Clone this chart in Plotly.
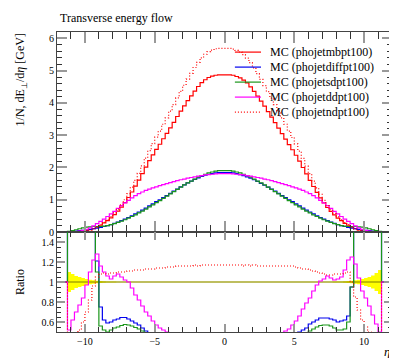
import numpy as np
import plotly.graph_objects as go
from plotly.subplots import make_subplots

# ---------------- binning ----------------
ETA_MIN, ETA_MAX, NBINS = -12.0, 12.0, 96
edges = np.linspace(ETA_MIN, ETA_MAX, NBINS + 1)

# ---------------- main panel values (per bin, eta from -12 to 12) ----------------
mb_left = [0, 0, 0, 0.002, 0.005, 0.009, 0.016, 0.028, 0.045, 0.07, 0.105, 0.15,
           0.21, 0.28, 0.35, 0.44, 0.54, 0.65, 0.77, 0.91, 1.07, 1.24, 1.42, 1.61,
           1.81, 2.01, 2.21, 2.39, 2.56, 2.72, 2.89, 3.06, 3.23, 3.40, 3.58, 3.75,
           3.91, 4.07, 4.22, 4.37, 4.51, 4.63, 4.72, 4.79, 4.83, 4.86, 4.87, 4.87]
mb_right = [4.87, 4.87, 4.86, 4.82, 4.78, 4.71, 4.62, 4.50, 4.36, 4.21, 4.06, 3.90,
            3.73, 3.56, 3.39, 3.22, 3.05, 2.88, 2.71, 2.55, 2.38, 2.20, 2.00, 1.80,
            1.60, 1.41, 1.23, 1.06, 0.90, 0.76, 0.64, 0.53, 0.43, 0.35, 0.27, 0.21,
            0.15, 0.10, 0.068, 0.044, 0.027, 0.016, 0.009, 0.005, 0.002, 0, 0, 0]

nd_left = [0, 0, 0, 0.001, 0.002, 0.004, 0.008, 0.017, 0.032, 0.057, 0.10, 0.16,
           0.23, 0.30, 0.38, 0.48, 0.59, 0.71, 0.84, 1.00, 1.19, 1.39, 1.60, 1.82,
           2.05, 2.29, 2.52, 2.74, 2.94, 3.13, 3.34, 3.54, 3.75, 3.95, 4.16, 4.36,
           4.55, 4.74, 4.92, 5.10, 5.26, 5.40, 5.51, 5.59, 5.64, 5.68, 5.69, 5.69]
nd_right = [5.69, 5.69, 5.67, 5.63, 5.58, 5.50, 5.39, 5.25, 5.09, 4.91, 4.73, 4.54,
            4.35, 4.15, 3.95, 3.75, 3.54, 3.34, 3.13, 2.93, 2.73, 2.51, 2.28, 2.04,
            1.81, 1.58, 1.37, 1.17, 0.98, 0.82, 0.69, 0.57, 0.47, 0.38, 0.29, 0.23,
            0.15, 0.09, 0.05, 0.028, 0.015, 0.008, 0.004, 0.002, 0.001, 0, 0, 0]

diff_left = [0, 0, 0, 0.01, 0.02, 0.03, 0.04, 0.05, 0.065, 0.08, 0.10, 0.12,
             0.14, 0.17, 0.20, 0.23, 0.27, 0.31, 0.35, 0.40, 0.45, 0.50, 0.56, 0.62,
             0.68, 0.74, 0.81, 0.87, 0.94, 1.00, 1.07, 1.13, 1.20, 1.27, 1.33, 1.40,
             1.46, 1.52, 1.58, 1.63, 1.68, 1.72, 1.76, 1.79, 1.81, 1.83, 1.84, 1.84]
diff_right = [1.84, 1.84, 1.83, 1.81, 1.78, 1.75, 1.71, 1.67, 1.62, 1.57, 1.51, 1.45,
              1.39, 1.33, 1.27, 1.20, 1.13, 1.07, 1.00, 0.94, 0.87, 0.81, 0.74, 0.68,
              0.62, 0.56, 0.50, 0.45, 0.40, 0.35, 0.31, 0.27, 0.23, 0.20, 0.17, 0.14,
              0.12, 0.10, 0.08, 0.065, 0.05, 0.04, 0.03, 0.02, 0.01, 0, 0, 0]

sd_left = [0, 0, 0, 0.02, 0.04, 0.07, 0.10, 0.13, 0.15, 0.16, 0.17, 0.17,
           0.17, 0.18, 0.20, 0.23, 0.26, 0.30, 0.34, 0.38, 0.43, 0.48, 0.53, 0.59,
           0.65, 0.71, 0.78, 0.84, 0.91, 0.97, 1.04, 1.11, 1.18, 1.25, 1.32, 1.39,
           1.46, 1.52, 1.58, 1.64, 1.70, 1.75, 1.79, 1.83, 1.86, 1.89, 1.90, 1.90]
sd_right = [1.90, 1.90, 1.89, 1.86, 1.83, 1.79, 1.75, 1.70, 1.64, 1.58, 1.52, 1.46,
            1.39, 1.32, 1.25, 1.18, 1.11, 1.04, 0.97, 0.91, 0.84, 0.78, 0.71, 0.65,
            0.59, 0.53, 0.48, 0.43, 0.38, 0.34, 0.30, 0.26, 0.23, 0.20, 0.18, 0.17,
            0.17, 0.17, 0.16, 0.15, 0.13, 0.10, 0.07, 0.04, 0.02, 0, 0, 0]

dd_left = [0, 0, 0, 0.003, 0.007, 0.015, 0.03, 0.05, 0.08, 0.13, 0.19, 0.26,
           0.33, 0.40, 0.48, 0.56, 0.64, 0.73, 0.82, 0.90, 0.98, 1.06, 1.13, 1.19,
           1.24, 1.29, 1.33, 1.37, 1.40, 1.44, 1.47, 1.50, 1.53, 1.56, 1.59, 1.62,
           1.64, 1.67, 1.69, 1.71, 1.73, 1.75, 1.77, 1.78, 1.79, 1.80, 1.81, 1.81]
dd_right = [1.81, 1.81, 1.80, 1.79, 1.78, 1.77, 1.75, 1.73, 1.71, 1.69, 1.67, 1.64,
            1.62, 1.59, 1.56, 1.53, 1.50, 1.47, 1.44, 1.40, 1.37, 1.33, 1.29, 1.24,
            1.19, 1.13, 1.06, 0.98, 0.90, 0.82, 0.73, 0.64, 0.56, 0.48, 0.40, 0.33,
            0.26, 0.19, 0.13, 0.08, 0.05, 0.03, 0.015, 0.007, 0.003, 0, 0, 0]

# ---------------- ratio panel values (series / mbpt100) ----------------
r_diff_left = [1, 1, 1, 3, 3, 3, 3, 3, 3, 3, 3,
               1.21, 0.75, 0.62, 0.59, 0.60, 0.62, 0.63, 0.645, 0.645, 0.63, 0.61, 0.59,
               0.57, 0.54, 0.51, 0.49,
               0.47, 0.46, 0.45, 0.44, 0.43, 0.42, 0.41, 0.41, 0.40, 0.40, 0.39, 0.39,
               0.39, 0.38, 0.38, 0.38, 0.38, 0.38, 0.38, 0.38, 0.38]
r_diff_right = [0.38, 0.38, 0.38, 0.38, 0.38, 0.38, 0.38, 0.39, 0.39, 0.39, 0.40, 0.40,
                0.41, 0.41, 0.42, 0.43, 0.44, 0.45, 0.46, 0.47, 0.48,
                0.50, 0.52, 0.54, 0.58, 0.60, 0.62, 0.64, 0.64, 0.64, 0.63, 0.62, 0.60,
                0.61, 0.62, 0.66, 0.95,
                3, 3, 3, 3, 3, 3, 3, 3, 1, 1, 1]

r_sd_left = [1, 1, 1, 3, 3, 3, 3, 3, 3, 3, 3,
             1.10, 0.56, 0.52, 0.50, 0.52, 0.54, 0.55, 0.565, 0.575, 0.57, 0.56, 0.545,
             0.53, 0.51, 0.49, 0.47,
             0.46, 0.45, 0.44, 0.43, 0.42, 0.42, 0.41, 0.41, 0.40, 0.40, 0.40, 0.39,
             0.39, 0.39, 0.39, 0.39, 0.39, 0.39, 0.39, 0.39, 0.39]
r_sd_right = [0.39, 0.39, 0.39, 0.39, 0.39, 0.39, 0.39, 0.39, 0.39, 0.40, 0.40, 0.40,
              0.41, 0.41, 0.42, 0.42, 0.43, 0.44, 0.45, 0.46, 0.47,
              0.48, 0.48, 0.49, 0.51, 0.53, 0.55, 0.565, 0.57, 0.57, 0.56, 0.54, 0.52,
              0.52, 0.53, 0.60, 0.95,
              3, 3, 3, 3, 3, 3, 3, 3, 1, 1, 1]

r_dd_left = [1, 1, 1,
             0.52, 0.62, 0.70, 0.77, 0.84, 0.97, 1.10, 1.22, 1.28, 1.16, 1.10, 1.06,
             1.03, 1.06, 1.08, 1.05, 1.02, 1.00, 0.94, 0.87, 0.82, 0.76, 0.70, 0.66,
             0.61, 0.57, 0.54, 0.52, 0.50, 0.48, 0.46, 0.44, 0.43, 0.42, 0.41, 0.40,
             0.39, 0.39, 0.38, 0.38, 0.37, 0.37, 0.37, 0.37, 0.37]
r_dd_right = [0.37, 0.37, 0.37, 0.37, 0.37, 0.38, 0.38, 0.39, 0.39, 0.40, 0.41, 0.42,
              0.43, 0.44, 0.46, 0.47, 0.49, 0.51, 0.53, 0.57, 0.61, 0.66, 0.73, 0.79,
              0.84, 0.91, 0.97, 1.01, 1.03, 1.06, 1.04, 1.02, 1.03, 1.05, 1.12, 1.22,
              1.25, 1.18, 1.04, 0.91, 0.84, 0.76, 0.67, 0.58, 0.50, 1, 1, 1]

r_nd_left = [1, 1, 1,
             0.30, 0.35, 0.42, 0.52, 0.60, 0.70, 0.82, 0.96, 1.05, 1.08, 1.09, 1.08,
             1.09, 1.09, 1.10, 1.10, 1.10, 1.11, 1.11, 1.12, 1.12, 1.12, 1.13, 1.13,
             1.13, 1.14, 1.14, 1.14, 1.15, 1.15, 1.15, 1.16, 1.16, 1.16, 1.16, 1.16,
             1.17, 1.16, 1.17, 1.17, 1.17, 1.17, 1.17, 1.17, 1.17]
r_nd_right = [1.17, 1.17, 1.17, 1.17, 1.17, 1.16, 1.17, 1.16, 1.17, 1.16, 1.16, 1.16,
              1.16, 1.16, 1.16, 1.16, 1.16, 1.16, 1.16, 1.16, 1.15, 1.14, 1.13, 1.13,
              1.12, 1.11, 1.10, 1.09, 1.08, 1.07, 1.07, 1.08, 1.08, 1.08, 1.09, 1.10,
              1.00, 0.85, 0.72, 0.62, 0.55, 0.50, 0.45, 0.40, 0.35, 1, 1, 1]

# relative uncertainty of the reference (mbpt100) -> yellow band
err_left = [0, 0, 0, 0.10, 0.08, 0.06, 0.05, 0.04, 0.03, 0.022, 0.017, 0.013,
            0.010, 0.008, 0.006, 0.005, 0.004, 0.003, 0.003,
            0.002, 0.002, 0.002, 0.002, 0.002, 0.002, 0.002, 0.002, 0.002, 0.002,
            0.002, 0.002, 0.002, 0.002, 0.002, 0.002, 0.002, 0.002, 0.002, 0.002,
            0.002, 0.002, 0.002, 0.002, 0.002, 0.002, 0.002, 0.002, 0.002]
err_right = [0.002, 0.002, 0.002, 0.002, 0.002, 0.002, 0.002, 0.002, 0.002, 0.002,
             0.002, 0.002, 0.002, 0.002, 0.002, 0.002, 0.002, 0.002, 0.002, 0.002,
             0.002, 0.002, 0.002, 0.002, 0.002, 0.002, 0.002, 0.002, 0.002,
             0.003, 0.003, 0.004, 0.005, 0.006, 0.008, 0.010, 0.013, 0.017, 0.022,
             0.03, 0.04, 0.05, 0.065, 0.09, 0.12, 0, 0, 0]

mb = mb_left + mb_right
nd = nd_left + nd_right
diff = diff_left + diff_right
sd = sd_left + sd_right
dd = dd_left + dd_right
r_mb = [1.0] * NBINS
r_diff = r_diff_left + r_diff_right
r_sd = r_sd_left + r_sd_right
r_dd = r_dd_left + r_dd_right
r_nd = r_nd_left + r_nd_right
err = err_left + err_right

labels = ["MC (phojetmbpt100)", "MC (phojetdiffpt100)", "MC (phojetsdpt100)",
          "MC (phojetddpt100)", "MC (phojetndpt100)"]
colors = ["#ff0000", "#0000ee", "#1a961a", "#ff00ff", "#ff0000"]
dashes = ["solid", "solid", "solid", "solid", "1px,2px"]

FONT = "Liberation Serif"


def stairs(vals):
    return list(vals) + [vals[-1]]


fig = make_subplots(rows=2, cols=1, shared_xaxes=True, vertical_spacing=0,
                    row_heights=[2 / 3, 1 / 3])

main_series = [mb, diff, sd, dd, nd]
for vals, name, col, dash in zip(main_series, labels, colors, dashes):
    fig.add_trace(go.Scatter(x=edges, y=stairs(vals), mode="lines", line_shape="hv",
                             line=dict(color=col, width=1.2, dash=dash),
                             name=name, showlegend=False), row=1, col=1)

# ratio panel: yellow band
lower = [1 - e for e in err]
upper = [1 + e for e in err]
fig.add_trace(go.Scatter(x=edges, y=stairs(lower), mode="lines", line_shape="hv",
                         line=dict(width=0, color="#ffff00"), showlegend=False,
                         hoverinfo="skip"), row=2, col=1)
fig.add_trace(go.Scatter(x=edges, y=stairs(upper), mode="lines", line_shape="hv",
                         line=dict(width=0, color="#ffff00"), fill="tonexty",
                         fillcolor="#ffff00", showlegend=False, hoverinfo="skip"),
              row=2, col=1)
fig.add_trace(go.Scatter(x=edges, y=stairs(r_mb), mode="lines", line_shape="hv",
                         line=dict(color="#7f7f00", width=1.2), showlegend=False),
              row=2, col=1)
ratio_series = [r_diff, r_sd, r_dd, r_nd]
for vals, col, dash in zip(ratio_series, colors[1:], dashes[1:]):
    fig.add_trace(go.Scatter(x=edges, y=stairs(vals), mode="lines", line_shape="hv",
                             line=dict(color=col, width=1.2, dash=dash),
                             showlegend=False), row=2, col=1)

tickfont = dict(family=FONT, size=10, color="black")
axis_common = dict(showline=True, linecolor="#444", linewidth=1, mirror="allticks",
                   ticks="inside", tickcolor="#999", tickwidth=1.5, showgrid=False,
                   zeroline=False, tickfont=tickfont)

fig.update_xaxes(range=[ETA_MIN, ETA_MAX], tick0=0, dtick=5, ticklen=11,
                 minor=dict(dtick=1, tick0=0, ticklen=7, ticks="inside", tickcolor="#333",
                            tickwidth=1, showgrid=False),
                 showticklabels=False, **axis_common, row=1, col=1)
fig.update_xaxes(range=[ETA_MIN, ETA_MAX], tick0=0, dtick=5, ticklen=8,
                 minor=dict(dtick=1, tick0=0, ticklen=5, ticks="inside", tickcolor="#333",
                            tickwidth=1, showgrid=False),
                 showticklabels=True, **axis_common, row=2, col=1)
fig.update_yaxes(range=[0, 6.2], tick0=0, dtick=1, ticklen=10,
                 minor=dict(dtick=0.2, tick0=0, ticklen=5, ticks="inside", tickcolor="#333",
                            tickwidth=1, showgrid=False),
                 **axis_common, row=1, col=1)
fig.update_yaxes(range=[0.5, 1.5], tickvals=[0.6, 0.8, 1.0, 1.2, 1.4],
                 ticktext=["0.6", "0.8", "1", "1.2", "1.4"], ticklen=8,
                 minor=dict(dtick=0.05, tick0=0, ticklen=4, ticks="inside", tickcolor="#333",
                            tickwidth=1, showgrid=False),
                 **axis_common, row=2, col=1)

# legend (drawn as lines + text in paper coordinates)
leg_x0, leg_x1, leg_tx, leg_y0, leg_dy = 0.531, 0.609, 0.630, 0.933, 0.05
for i, (name, col, dash) in enumerate(zip(labels, colors, dashes)):
    yy = leg_y0 - i * leg_dy
    fig.add_shape(type="line", xref="paper", yref="paper", x0=leg_x0, x1=leg_x1,
                  y0=yy, y1=yy, line=dict(color=col, width=1.2, dash=dash))
    fig.add_annotation(xref="paper", yref="paper", x=leg_tx, y=yy, text=name,
                       showarrow=False, xanchor="left", yanchor="middle",
                       font=dict(family=FONT, size=12, color="black"))

fig.add_annotation(xref="paper", yref="paper", x=0.003, y=1.047,
                   text="Transverse energy flow", showarrow=False, xanchor="left",
                   yanchor="middle", font=dict(family=FONT, size=12, color="black"))
fig.add_annotation(xref="paper", yref="paper", x=-0.108, y=1.003,
                   text="1/N, dE<sub>⊥</sub>/d<i>η</i> [GeV]", showarrow=False,
                   textangle=-90, xanchor="center", yanchor="top",
                   font=dict(family=FONT, size=12, color="black"))
fig.add_annotation(xref="paper", yref="paper", x=-0.11, y=0.167, text="Ratio",
                   showarrow=False, textangle=-90, xanchor="center", yanchor="middle",
                   font=dict(family=FONT, size=12, color="black"))
fig.add_annotation(xref="paper", yref="paper", x=0.985, y=-0.065, text="<i>η</i>",
                   showarrow=False, xanchor="center", yanchor="middle",
                   font=dict(family=FONT, size=13, color="black"))

fig.update_layout(width=397, height=358, margin=dict(l=49, r=13, t=24, b=34),
                  plot_bgcolor="white", paper_bgcolor="white", showlegend=False,
                  font=dict(family=FONT, size=11, color="black"))

fig.write_html("out.html")
